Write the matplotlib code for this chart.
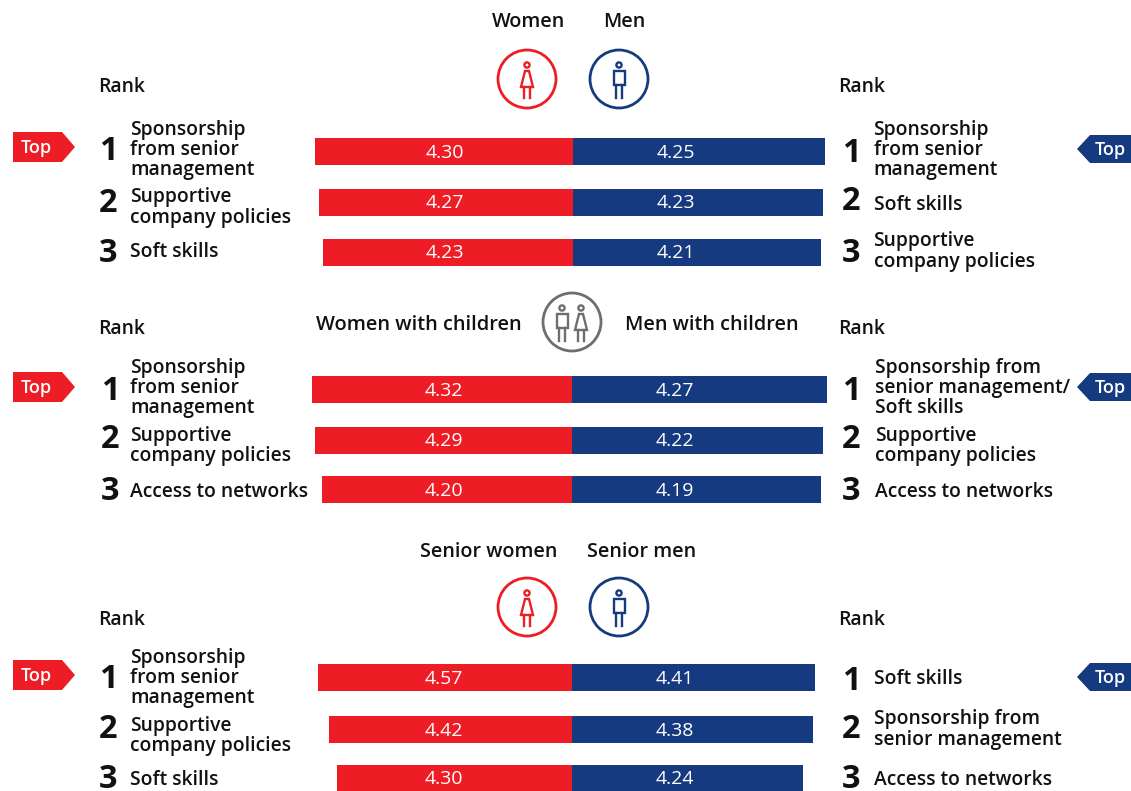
import matplotlib
matplotlib.use("Agg")
import matplotlib.pyplot as plt
from matplotlib.patches import Circle, Polygon, Rectangle

plt.rcParams['font.family'] = ['Open Sans', 'DejaVu Sans']

# chart data, top to bottom
women_values_1 = [4.30, 4.27, 4.23]
men_values_1 = [4.25, 4.23, 4.21]
women_labels_1 = ["Sponsorship\nfrom senior\nmanagement", "Supportive\ncompany policies", "Soft skills"]
men_labels_1 = ["Sponsorship\nfrom senior\nmanagement", "Soft skills", "Supportive\ncompany policies"]

women_values_2 = [4.32, 4.29, 4.20]
men_values_2 = [4.27, 4.22, 4.19]
women_labels_2 = ["Sponsorship\nfrom senior\nmanagement", "Supportive\ncompany policies", "Access to networks"]
men_labels_2 = ["Sponsorship from\nsenior management/\nSoft skills", "Supportive\ncompany policies", "Access to networks"]

women_values_3 = [4.57, 4.42, 4.30]
men_values_3 = [4.41, 4.38, 4.24]
women_labels_3 = ["Sponsorship\nfrom senior\nmanagement", "Supportive\ncompany policies", "Soft skills"]
men_labels_3 = ["Soft skills", "Sponsorship from\nsenior management", "Access to networks"]

ranks = ["1", "2", "3"]

W, H = 1131, 791
RED = "#EE1C25"
BLUE = "#163A80"
GREY = "#6D6E71"
DARK = "#111111"
WEIGHT = 600

fig = plt.figure(figsize=(W / 100, H / 100), dpi=100)

# whole figure axes in pixels for the text and the icons, kept above the bar axes
bg = fig.add_axes([0, 0, 1, 1])
bg.set_xlim(0, W)
bg.set_ylim(H, 0)
bg.axis("off")
bg.set_zorder(10)


def label(x, y, s, size=13.9, ha="left", color=DARK, weight=WEIGHT):
    # +2: the font box sits a little high against the reference
    bg.text(x, y + 2, s, fontsize=size, ha=ha, va="center", color=color, weight=weight,
            linespacing=1.02, zorder=5)


def bars(women, men, center, scale, base, rows):
    half = 270
    ax = fig.add_axes([(center - half) / W, 0, 2 * half / W, 1])
    ax.set_xlim(-half / scale, half / scale)
    ax.set_ylim(H, 0)
    ax.axis("off")
    ax.barh(rows, [-(v - base) for v in women], height=27, left=0, color=RED)
    ax.barh(rows, [v - base for v in men], height=27, left=0, color=BLUE)
    for r, a, b in zip(rows, women, men):
        # the labels are not centred in the bars, they keep a fixed distance from the middle
        bg.text(center - 128, r + 1, "%.2f" % a, color="white", fontsize=14, ha="center", va="center", zorder=6)
        bg.text(center + 103, r + 1, "%.2f" % b, color="white", fontsize=14, ha="center", va="center", zorder=6)


def tag_left(y):
    bg.add_patch(Polygon([(13, y - 15), (62, y - 15), (75, y), (62, y + 15), (13, y + 15)], color=RED, lw=0))
    label(36, y - 1, "Top", size=13, ha="center", color="white", weight=600)


def tag_right(y):
    bg.add_patch(Polygon([(1131, y - 14), (1090, y - 14), (1077, y), (1090, y + 14), (1131, y + 14)], color=BLUE, lw=0))
    label(1110, y - 1, "Top", size=13, ha="center", color="white", weight=600)


def woman(cx, cy, color, lw=1.7):
    bg.add_patch(Circle((cx, cy - 14), 2.6, fill=False, ec=color, lw=lw))
    bg.add_patch(Polygon([(cx - 2, cy - 8), (cx + 2, cy - 8), (cx + 6, cy + 8), (cx - 6, cy + 8)],
                         fill=False, ec=color, lw=lw))
    bg.plot([cx - 3, cx - 3], [cy + 8, cy + 19], color=color, lw=lw)
    bg.plot([cx + 3, cx + 3], [cy + 8, cy + 19], color=color, lw=lw)


def man(cx, cy, color, lw=1.7):
    bg.add_patch(Circle((cx, cy - 14), 2.6, fill=False, ec=color, lw=lw))
    bg.add_patch(Rectangle((cx - 5.5, cy - 8), 11, 14, fill=False, ec=color, lw=lw))
    bg.plot([cx - 3, cx - 3], [cy + 6, cy + 19], color=color, lw=lw)
    bg.plot([cx + 3, cx + 3], [cy + 6, cy + 19], color=color, lw=lw)


def ring(cx, cy, color):
    bg.add_patch(Circle((cx, cy), 29, fill=False, ec=color, lw=2))


def side(rank_x, text_x, labels, rank_ys, text_ys):
    for r, s, ry, ty in zip(ranks, labels, rank_ys, text_ys):
        label(rank_x, ry, r, size=23.5, ha="center", weight=700)
        label(text_x, ty, s)


# first block
label(528.5, 20, "Women", ha="center", size=14.2)
label(624, 20, "Men", ha="center", size=14.2)
ring(527, 79, RED)
woman(527, 79, RED)
ring(619, 79, BLUE)
man(619, 79, BLUE)
label(98.5, 85, "Rank")
label(838.5, 85, "Rank")
tag_left(147)
tag_right(149)
bars(women_values_1, men_values_1, 573, 113.5, 2.028, [151.5, 202.5, 252.5])
side(108, 130, women_labels_1, [150, 202, 251], [148, 205.5, 250])
side(851, 873.5, men_labels_1, [151, 200, 251], [148, 203, 249.5])

# second block
label(316, 323, "Women with children", size=14.4)
label(625, 323, "Men with children", size=14.3)
ring(572, 322, GREY)
man(562, 322, GREY)
woman(581, 322, GREY)
label(98.5, 327, "Rank")
label(838.5, 327, "Rank")
tag_left(387)
tag_right(387)
bars(women_values_2, men_values_2, 572, 82.3, 1.166, [389.5, 440.5, 489.5])
side(110, 130, women_labels_2, [389, 438, 489], [386, 444, 490])
side(851, 875, men_labels_2, [389, 438, 489], [386, 444, 490])

# third block
label(420, 550, "Senior women", size=14.2)
label(587, 550, "Senior men", size=14.2)
ring(527, 607, RED)
woman(527, 607, RED)
ring(619, 607, BLUE)
man(619, 607, BLUE)
label(98.5, 618, "Rank")
label(838.5, 618, "Rank")
tag_left(675)
tag_right(677)
bars(women_values_3, men_values_3, 572, 70.4, 0.963, [677.5, 729.5, 778])
side(108, 130, women_labels_3, [678, 728, 778], [676, 734, 778])
side(851, 874, men_labels_3, [679, 727, 778], [677, 727.5, 778])

fig.savefig("out.png", dpi=100)
